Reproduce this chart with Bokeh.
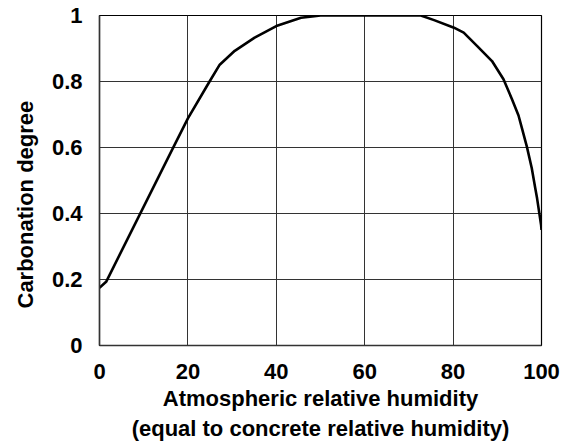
from bokeh.plotting import figure
from bokeh.models import FixedTicker, Title
from bokeh.embed import file_html
from bokeh.resources import INLINE

# Data
humidity = [0, 1.5, 16.5, 20, 24.9, 27.2, 30.6, 35.1, 40, 45.6, 48.6, 50,
            72.7, 75.7, 80.2, 82.4, 85.4, 88.8, 91.4, 93.3, 94.8, 95.6, 96.7, 97.8,
            98.6, 99.0, 99.9, 100]
carbonation = [0.175, 0.193, 0.595, 0.688, 0.80, 0.851, 0.893, 0.933,
               0.968, 0.993, 0.998, 1.0, 1.0, 0.986, 0.963, 0.948, 0.908, 0.862,
               0.807, 0.747, 0.697, 0.657, 0.602, 0.537, 0.476, 0.446, 0.366, 0.35]
x_ticks = [0, 20, 40, 60, 80, 100]
y_ticks = [0, 0.2, 0.4, 0.6, 0.8, 1.0]
y_tick_labels = {0: "0", 0.2: "0.2", 0.4: "0.4", 0.6: "0.6", 0.8: "0.8", 1.0: "1"}
x_title = "Atmospheric relative humidity\n(equal to concrete relative humidity)"
y_title = "Carbonation degree"

FONT = "Liberation Sans"

p = figure(width=562, height=443, x_range=(0, 100), y_range=(0, 1),
           output_backend="svg", toolbar_location=None,
           min_border_left=98, min_border_right=21, min_border_top=15,
           min_border_bottom=95)

p.line(humidity, carbonation, line_color="black", line_width=2.6)

p.outline_line_color = "black"
p.outline_line_width = 1.2

for ax in (p.xaxis[0], p.yaxis[0]):
    ax.major_label_text_font = FONT
    ax.major_label_text_font_style = "bold"
    ax.major_label_text_font_size = "22px"
    ax.major_label_text_color = "black"
    ax.axis_label_text_font = FONT
    ax.axis_label_text_font_style = "bold"
    ax.axis_label_text_font_size = "22px"
    ax.axis_label_text_color = "black"
    ax.major_tick_out = 0
    ax.major_tick_in = 0
    ax.minor_tick_out = 0
    ax.minor_tick_in = 0
    ax.axis_line_color = "#333333"
    ax.axis_line_width = 1.5

p.xaxis.ticker = FixedTicker(ticks=x_ticks)
p.yaxis.ticker = FixedTicker(ticks=y_ticks)
p.yaxis.major_label_overrides = y_tick_labels
p.xaxis.major_label_standoff = 18
p.yaxis.major_label_standoff = 17
p.xaxis.axis_label = x_title
p.xaxis.axis_label_standoff = 4

# y title as a side title so it can sit lower than centre, as in the reference
p.add_layout(Title(text=y_title, align="left", offset=37, standoff=21,
                   text_font=FONT, text_font_style="bold", text_font_size="22px",
                   text_color="black"), "left")

p.xgrid.ticker = FixedTicker(ticks=x_ticks)
p.ygrid.ticker = FixedTicker(ticks=y_ticks)
p.grid.grid_line_color = "#333333"
p.grid.grid_line_width = 1
p.grid.grid_line_alpha = 1.0

open("out.html", "w").write(file_html(p, INLINE))
